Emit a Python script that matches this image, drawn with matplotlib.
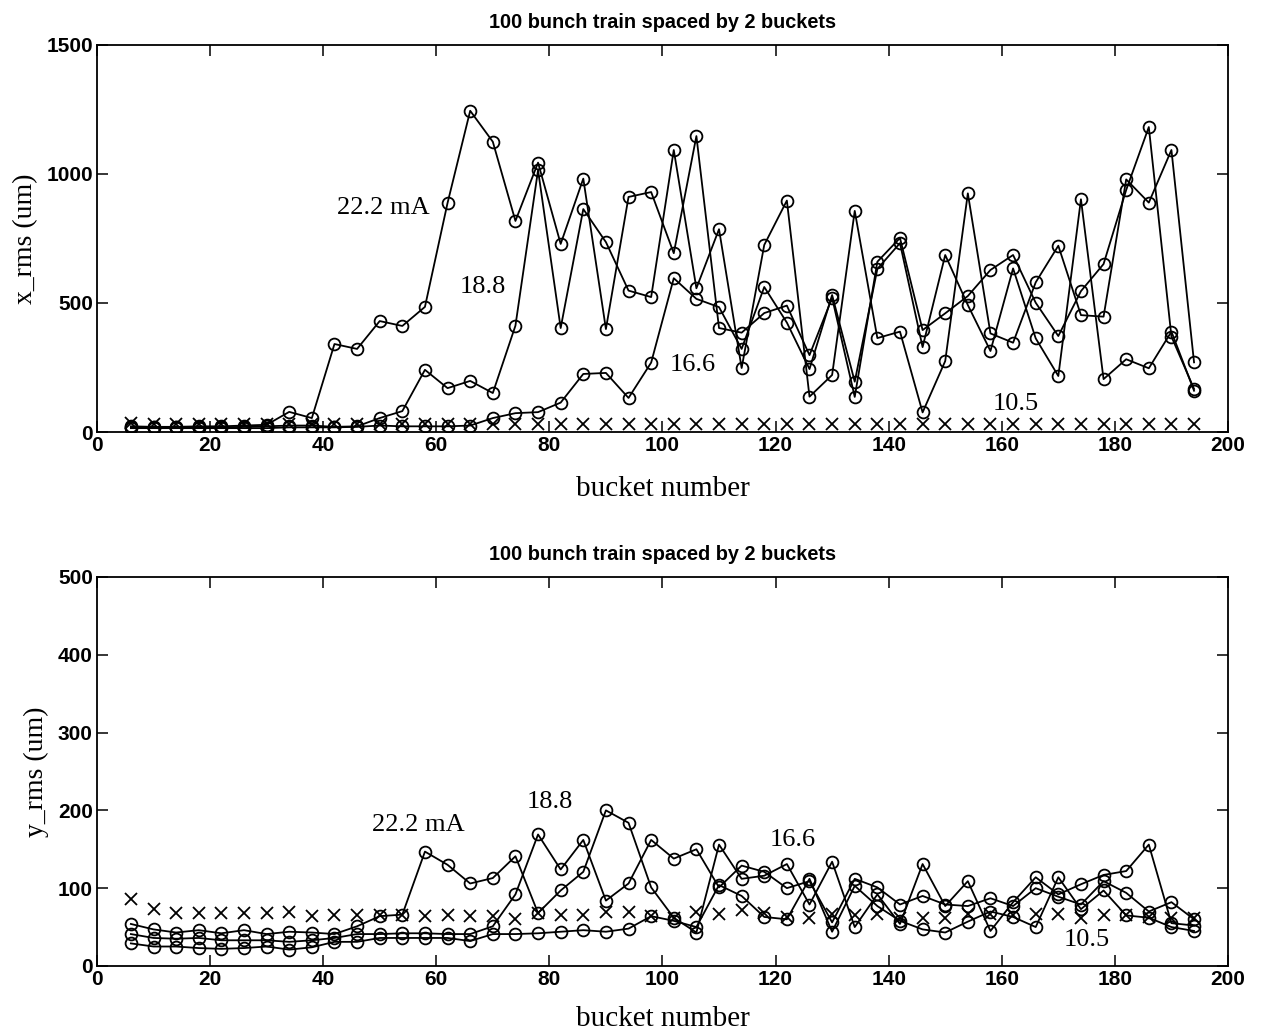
"""Bunch-train x/y rms vs bucket number, two stacked panels (matlab-style)."""
import numpy as np
import matplotlib
matplotlib.use("Agg")
import matplotlib.pyplot as plt

# bucket numbers of the 100-bunch train (every 4th one measured)
buckets = list(range(6, 195, 4))

# top panel: x_rms (um)
x_222 = [22, 20, 20, 22, 22, 25, 28, 78, 54, 341, 322, 430, 411, 485, 888, 1245,
         1125, 818, 1044, 729, 982, 399, 911, 930, 693, 1147, 403, 385, 461, 490,
         298, 520, 136, 660, 752, 395, 460, 527, 628, 686, 501, 372, 546, 651, 938,
         1182, 370, 167]
x_188 = [18, 18, 18, 18, 18, 20, 22, 25, 25, 20, 22, 54, 81, 241, 170, 198,
         151, 412, 1015, 403, 864, 736, 548, 523, 1093, 557, 786, 248, 725, 897,
         137, 221, 857, 364, 389, 76, 275, 925, 382, 346, 580, 722, 453, 447, 979,
         889, 1093, 270]
x_166 = [15, 15, 15, 15, 15, 15, 15, 18, 18, 18, 20, 25, 22, 22, 22, 25,
         54, 73, 77, 114, 225, 229, 132, 269, 596, 516, 484, 322, 562, 424,
         244, 531, 195, 632, 732, 329, 686, 492, 314, 634, 363, 217, 902, 205, 282,
         247, 389, 160]
x_105 = [35, 31, 30, 31, 30, 31, 30, 31, 30, 30, 31, 30, 30, 31, 30, 30,
         31, 30, 31, 30, 31, 30, 31, 30, 31, 30, 31, 30, 31, 30,
         31, 30, 31, 30, 31, 30, 31, 30, 31, 30, 31, 30, 31, 30, 31,
         30, 31, 30]

# bottom panel: y_rms (um)
y_222 = [54, 47, 43, 46, 42, 46, 41, 44, 43, 41, 51, 64, 66, 147, 130, 106,
         113, 141, 68, 97, 121, 200, 184, 101, 62, 43, 156, 112, 116, 131,
         79, 134, 50, 92, 54, 131, 77, 109, 45, 82, 114, 92, 105, 117, 122,
         156, 55, 52]
y_188 = [41, 36, 35, 36, 33, 33, 33, 31, 33, 36, 41, 41, 42, 42, 41, 41,
         51, 92, 169, 124, 162, 84, 106, 162, 138, 150, 101, 129, 121, 100,
         109, 56, 112, 101, 79, 90, 79, 77, 87, 77, 100, 89, 79, 109, 94,
         70, 82, 60]
y_166 = [29, 25, 25, 23, 22, 23, 25, 21, 24, 31, 31, 36, 36, 36, 36, 32,
         41, 41, 42, 44, 46, 44, 48, 64, 58, 50, 104, 90, 63, 60,
         112, 44, 103, 77, 58, 47, 43, 57, 70, 63, 50, 114, 73, 97, 65,
         62, 50, 45]
y_105 = [86, 73, 68, 68, 68, 68, 68, 69, 64, 66, 66, 66, 66, 64, 66, 64,
         64, 61, 68, 66, 66, 69, 70, 64, 62, 69, 67, 72, 68, 63,
         62, 67, 65, 67, 62, 62, 62, 67, 67, 65, 67, 67, 62, 65, 65,
         63, 62, 62]

title = "100 bunch train spaced by 2 buckets"
curr_labels = ["22.2 mA", "18.8", "16.6", "10.5"]
top_label_pos = [(50.6, 868), (68.3, 562), (105.4, 260), (162.5, 108)]
bot_label_pos = [(56.8, 181), (80.0, 211), (123.0, 162), (175.0, 33)]

SANS = "Liberation Sans"
SERIF = "Liberation Serif"

fig = plt.figure(figsize=(12.64, 10.34), dpi=100)
ax1 = fig.add_axes([0.0767, 0.5822, 0.8948, 0.3743])
ax2 = fig.add_axes([0.0767, 0.0658, 0.8948, 0.3762])

circ = dict(color="black", lw=1.3, marker="o", ms=8.5, mfc="none", mew=1.3)
cross = dict(color="black", ls="none", marker="x", ms=8, mew=1.3)

def style(ax, ymax, ylabel, xpad):
    ax.set_xlim(0, 200)
    ax.set_ylim(0, ymax)
    ax.set_xticks(np.arange(0, 201, 20))
    ax.tick_params(direction="in", top=True, right=True, length=8, width=1.1,
                   labelsize=15, pad=3)
    for lab in ax.get_xticklabels() + ax.get_yticklabels():
        lab.set_fontfamily(SANS)
        lab.set_fontweight("bold")
    for sp in ax.spines.values():
        sp.set_linewidth(1.3)
    ax.set_title(title, fontfamily=SANS, fontweight="bold", fontsize=14.3, pad=12)
    ax.set_ylabel(ylabel, fontfamily=SERIF, fontsize=20, labelpad=6)
    ax.set_xlabel("bucket number", fontfamily=SERIF, fontsize=21, labelpad=xpad)

for ax, series, xs, ymax, yl, lpos, xpad in [
        (ax1, [x_222, x_188, x_166], x_105, 1500, "x_rms (um)", top_label_pos, 15),
        (ax2, [y_222, y_188, y_166], y_105, 500, "y_rms (um)", bot_label_pos, 12)]:
    for s in series:
        ax.plot(buckets, s, **circ)
    ax.plot(buckets, xs, **cross)
    for txt, (bx, by) in zip(curr_labels, lpos):
        ax.text(bx, by, txt, fontfamily=SERIF, fontsize=19, ha="center", va="center")
    style(ax, ymax, yl, xpad)

ax1.set_yticks([0, 500, 1000, 1500])
ax2.set_yticks(np.arange(0, 501, 100))

fig.savefig("out.png", dpi=100)
